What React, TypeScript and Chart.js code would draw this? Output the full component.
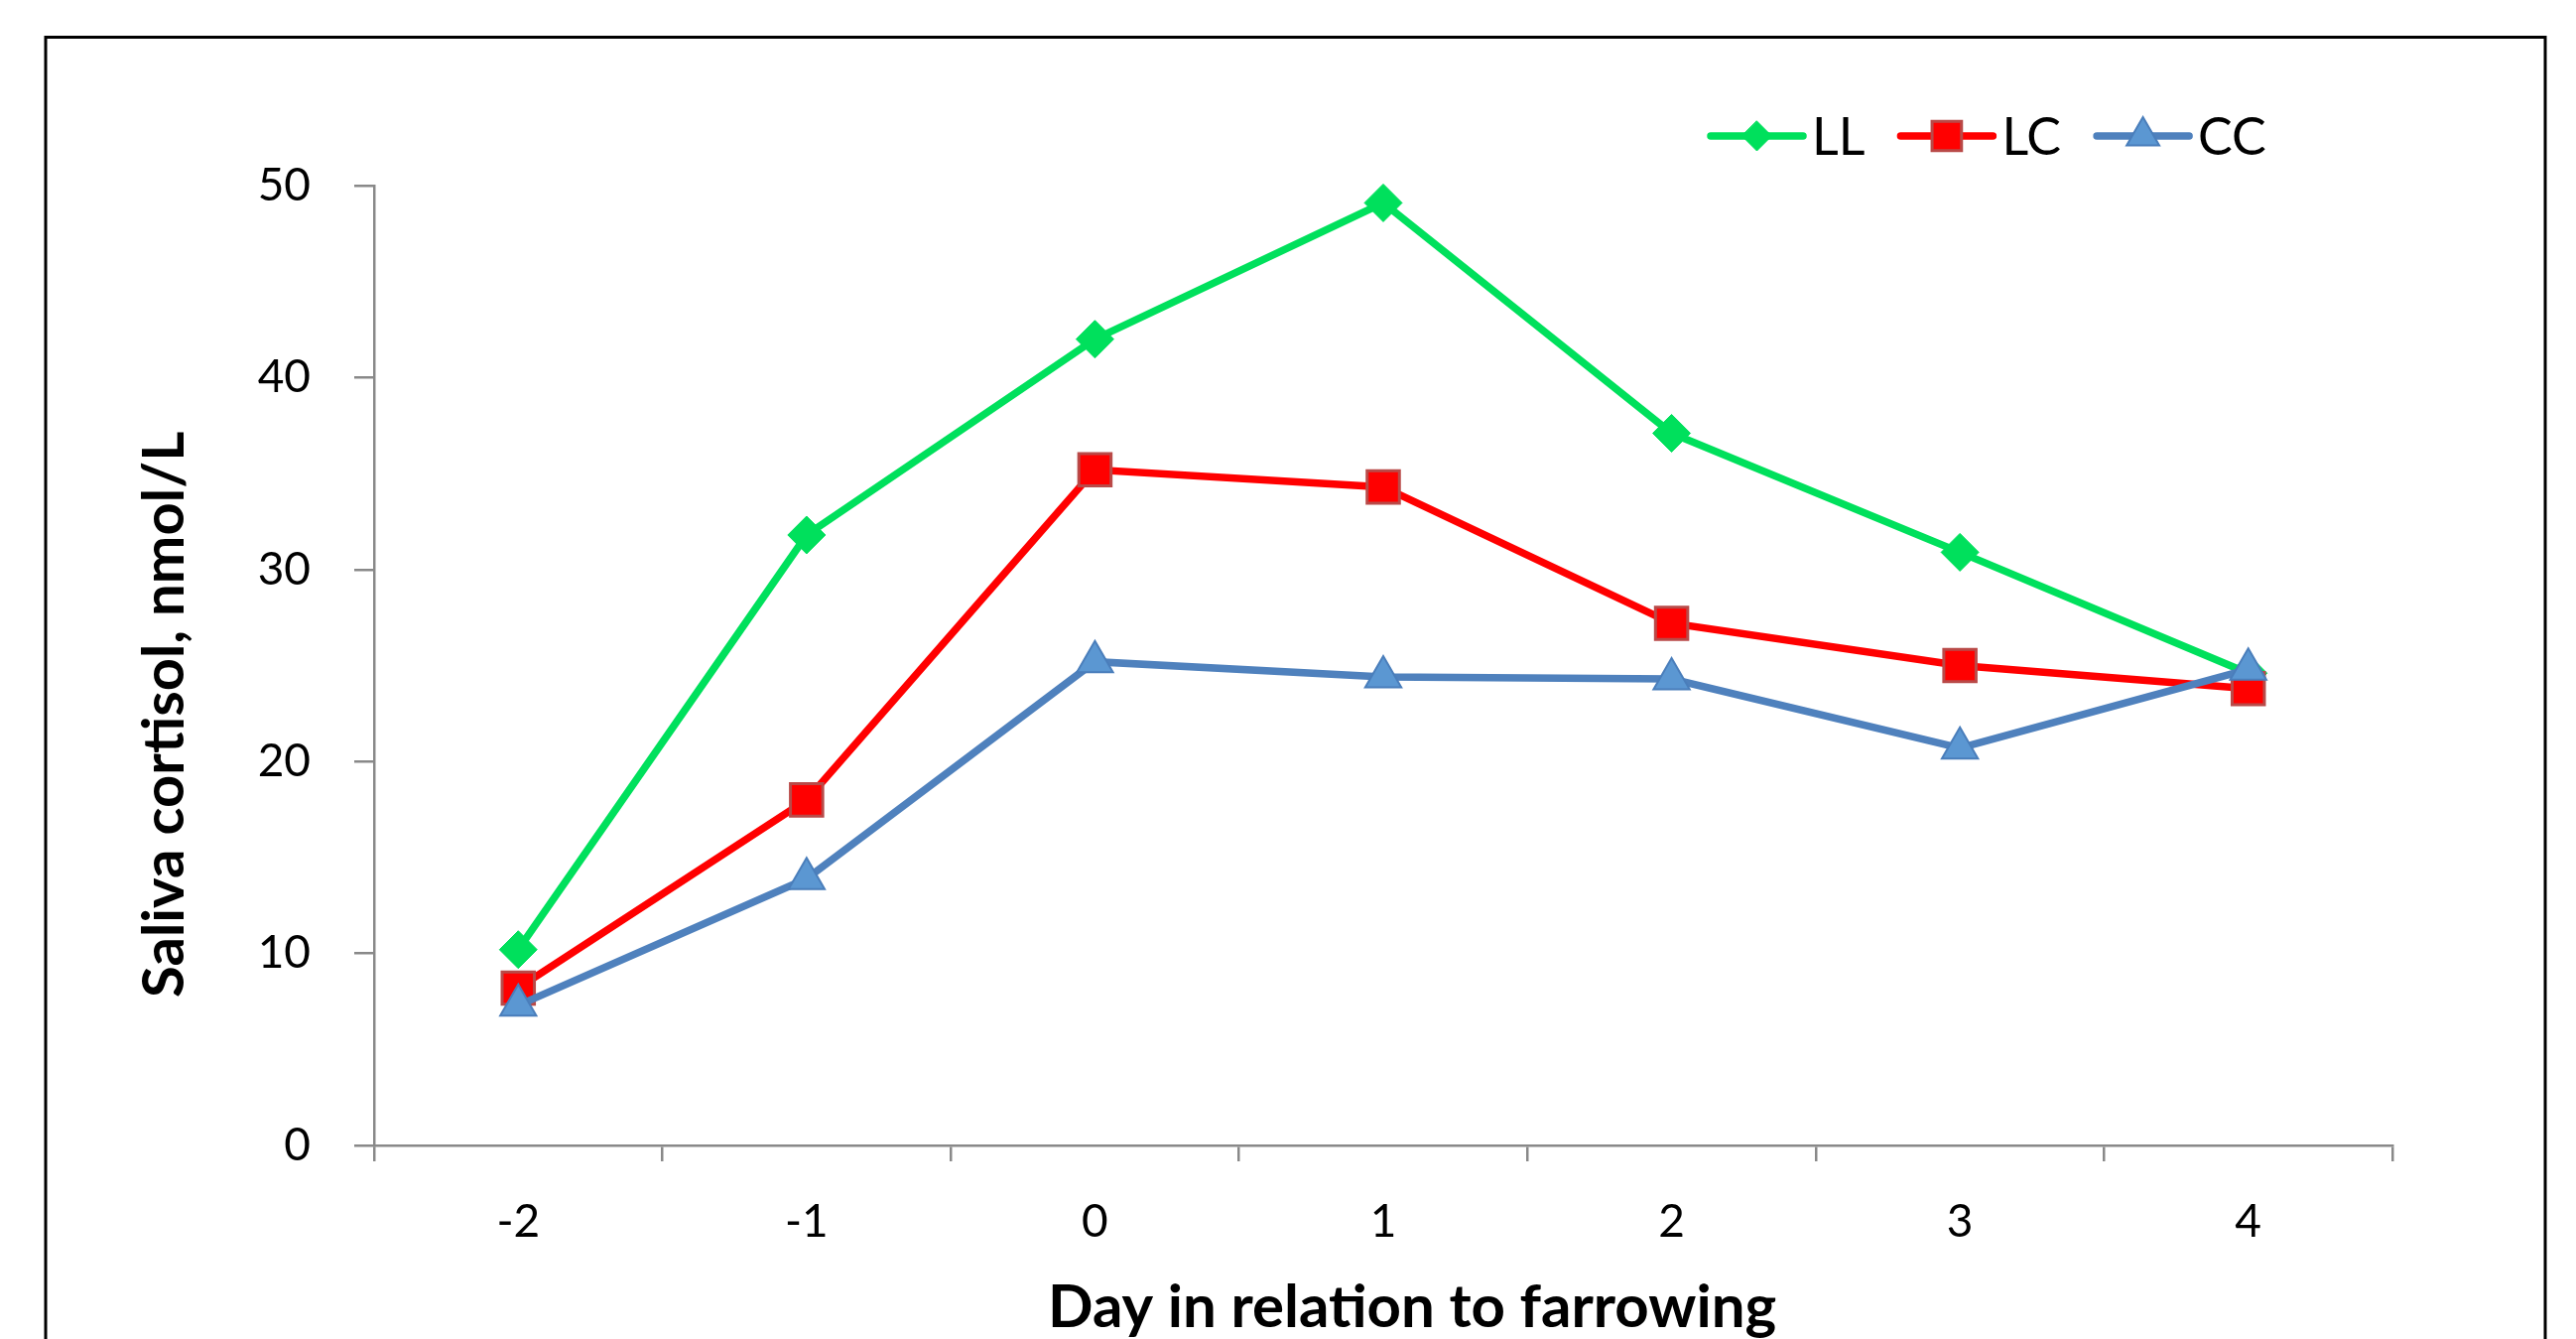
import React, { useEffect, useRef } from 'react';
import { Chart, registerables } from 'chart.js';

Chart.register(...registerables);

// ---- data ----
const days = ['-2', '-1', '0', '1', '2', '3', '4'];
const llValues = [10.2, 31.8, 42.0, 49.1, 37.1, 30.9, 24.6];
const lcValues = [8.2, 18.0, 35.2, 34.3, 27.2, 25.0, 23.8];
const ccValues = [7.3, 13.9, 25.2, 24.4, 24.3, 20.7, 24.8];
const seriesNames = ['LL', 'LC', 'CC'];
const yMin = 0;
const yMax = 50;
const yStep = 10;
const xTitle = 'Day in relation to farrowing';
const yTitle = 'Saliva cortisol, nmol/L';

const CANVAS_W = 2596;
const CANVAS_H = 1420;
const AXIS_COLOR = '#898989';

function drawMarker(
  ctx: CanvasRenderingContext2D,
  style: string,
  x: number,
  y: number,
  r: number,
  fill: string,
  stroke: string,
  bw: number
) {
  ctx.beginPath();
  if (style === 'rectRot') {
    ctx.moveTo(x, y - r);
    ctx.lineTo(x + r, y);
    ctx.lineTo(x, y + r);
    ctx.lineTo(x - r, y);
    ctx.closePath();
  } else if (style === 'rect') {
    const s = r * Math.SQRT1_2;
    ctx.rect(x - s, y - s, 2 * s, 2 * s);
  } else {
    const a = (2 * Math.PI) / 3;
    ctx.moveTo(x, y - r);
    ctx.lineTo(x + Math.sin(a) * r, y - Math.cos(a) * r);
    ctx.lineTo(x + Math.sin(2 * a) * r, y - Math.cos(2 * a) * r);
    ctx.closePath();
  }
  ctx.fillStyle = fill;
  ctx.fill();
  if (bw > 0) {
    ctx.lineWidth = bw;
    ctx.strokeStyle = stroke;
    ctx.stroke();
  }
}

const framePlugin = {
  id: 'frame',
  beforeDraw(chart: any) {
    const ctx = chart.ctx;
    ctx.save();
    ctx.fillStyle = '#ffffff';
    ctx.fillRect(0, 0, chart.width, chart.height);
    ctx.strokeStyle = '#000000';
    ctx.lineWidth = 3;
    ctx.strokeRect(46, 37.5, 2519, 1600);
    ctx.restore();
  },
};

const lineLegendPlugin = {
  id: 'lineLegend',
  afterDraw(chart: any, _args: any, opts: any) {
    const ctx: CanvasRenderingContext2D = chart.ctx;
    ctx.save();
    ctx.font = opts.font;
    ctx.textBaseline = 'middle';
    ctx.textAlign = 'left';
    let x = opts.x;
    const y = opts.y;
    chart.data.datasets.forEach((ds: any, i: number) => {
      ctx.beginPath();
      ctx.lineCap = 'round';
      ctx.lineWidth = ds.borderWidth;
      ctx.strokeStyle = ds.borderColor;
      ctx.moveTo(x, y);
      ctx.lineTo(x + opts.lineLength, y);
      ctx.stroke();
      drawMarker(
        ctx,
        ds.pointStyle,
        x + opts.lineLength / 2,
        y,
        opts.markerRadius[i],
        ds.pointBackgroundColor,
        ds.pointBorderColor,
        ds.pointBorderWidth
      );
      const tx = x + opts.lineLength + opts.textGap;
      ctx.fillStyle = '#000000';
      ctx.fillText(ds.label, tx, y + 2);
      x = tx + ctx.measureText(ds.label).width + opts.itemGap;
    });
    ctx.restore();
  },
};

export default function App() {
  const canvasRef = useRef<HTMLCanvasElement | null>(null);

  useEffect(() => {
    if (!canvasRef.current) return;
    const chart = new Chart(canvasRef.current, {
      type: 'line',
      data: {
        labels: days,
        datasets: [
          {
            label: seriesNames[0],
            data: llValues,
            borderColor: '#00E05C',
            borderWidth: 7.5,
            pointStyle: 'rectRot',
            pointRadius: 19,
            pointHoverRadius: 19,
            pointBackgroundColor: '#00E05C',
            pointBorderColor: '#00E05C',
            pointBorderWidth: 1,
            tension: 0,
            clip: false,
            order: 3,
          },
          {
            label: seriesNames[1],
            data: lcValues,
            borderColor: '#FF0000',
            borderWidth: 7.5,
            pointStyle: 'rect',
            pointRadius: 23,
            pointHoverRadius: 23,
            pointBackgroundColor: '#FF0000',
            pointBorderColor: '#B94A48',
            pointBorderWidth: 3,
            tension: 0,
            clip: false,
            order: 2,
          },
          {
            label: seriesNames[2],
            data: ccValues,
            borderColor: '#4F81BD',
            borderWidth: 7.5,
            pointStyle: 'triangle',
            pointRadius: 21,
            pointHoverRadius: 21,
            pointBackgroundColor: '#5B97D2',
            pointBorderColor: '#4A7EBB',
            pointBorderWidth: 2,
            tension: 0,
            clip: false,
            order: 1,
          },
        ] as any,
      },
      options: {
        animation: false,
        responsive: true,
        maintainAspectRatio: false,
        layout: {
          padding: { left: 0, top: 187, right: CANVAS_W - 2411, bottom: 0 },
        },
        plugins: {
          legend: { display: false },
          tooltip: { enabled: false },
          lineLegend: {
            x: 1724,
            y: 137,
            lineLength: 93,
            textGap: 9,
            itemGap: 36,
            markerRadius: [15, 21, 19],
            font: '52px Lato',
          },
        } as any,
        scales: {
          x: {
            type: 'category',
            offset: true,
            grid: {
              offset: true,
              drawOnChartArea: false,
              drawTicks: true,
              tickLength: 16,
              color: AXIS_COLOR,
              lineWidth: 2.5,
            },
            border: { display: true, color: AXIS_COLOR, width: 2.5 },
            ticks: {
              color: '#000000',
              font: { family: 'Lato', size: 46 },
              padding: 34,
              maxRotation: 0,
            },
            title: {
              display: true,
              text: '    ' + xTitle,
              color: '#000000',
              font: { family: 'Lato', size: 60, weight: 'bold' },
              padding: { top: 0, bottom: 66 },
            },
            afterFit: (s: any) => {
              s.height = CANVAS_H - 1154;
            },
          },
          y: {
            min: yMin,
            max: yMax,
            grid: {
              drawOnChartArea: false,
              drawTicks: true,
              tickLength: 20,
              color: AXIS_COLOR,
              lineWidth: 2.5,
            },
            border: { display: true, color: AXIS_COLOR, width: 2.5 },
            ticks: {
              stepSize: yStep,
              color: '#000000',
              font: { family: 'Lato', size: 46 },
              padding: 44,
            },
            title: {
              display: true,
              text: yTitle + '       ',
              color: '#000000',
              font: { family: 'Lato', size: 58, weight: 'bold' },
              padding: { top: 131, bottom: 0 },
            },
            afterFit: (s: any) => {
              s.width = 377;
            },
          },
        },
      } as any,
      plugins: [framePlugin, lineLegendPlugin],
    });
    return () => chart.destroy();
  }, []);

  return (
    <div
      style={{
        position: 'fixed',
        left: 0,
        top: 0,
        width: '100vw',
        height: '100vh',
        overflow: 'hidden',
        background: '#ffffff',
      }}
    >
      <div style={{ position: 'relative', width: CANVAS_W, height: CANVAS_H }}>
        <canvas ref={canvasRef} />
      </div>
    </div>
  );
}
